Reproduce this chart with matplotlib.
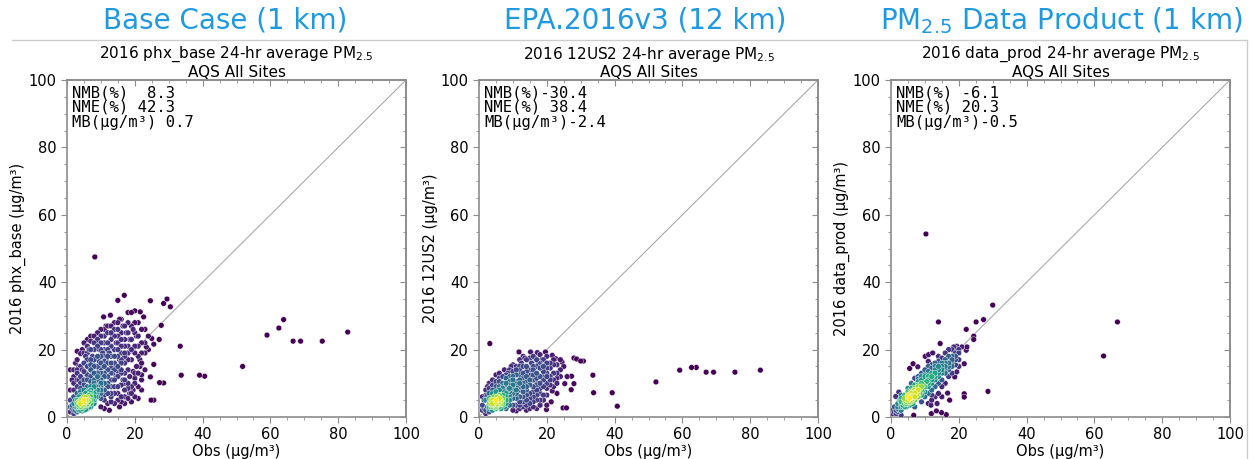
import numpy as np
import matplotlib
matplotlib.use('Agg')
import matplotlib.pyplot as plt
from matplotlib.lines import Line2D

# (obs, model) pairs, ug/m3
base_pts = [
    (2,2),(2.5,3),(3,2.5),(3,4),(3.5,3),(4,3),(4,4),(4,5),(4.5,3.5),(5,4),(5,5),(5,3),(5.5,4.5),
    (6,5),(6,4),(6,6),(6.5,5),(7,6),(7,5),(7.5,7),(3,5),(3.5,6),(4,6.5),(5,6),(5.5,7),(6,7.5),
    (2,4),(2.5,5),(1.5,2.5),(1,1.5),(1.5,3.5),(8,7),(8,8),(8.5,6),(7,8),(6.5,3),(5,2),(4,2),
    (7,4),(9,8),(9,9),(10,9),(9.5,10),(8,10),(7,9),(6,9),(5,8),(4,7.5),(3,7),(2,6),(1,3),(1,5),
    (2,8),(10,11),(11,10),(12,12),(11,13),(10,7),(9,6),(8,4),(7,3),(6,2.5),(3,1.5),(2,1),
    (4.5,1.8),(5.5,2.2),(4.5,5.5),(5.5,5.8),(6.5,6.5),(3.5,4.5),(4.8,4.2),(5.8,3.6),
    (3,3),(4,4.5),(5,4.5),(5.5,5),(6,5.5),(4.5,4),(3.5,3.5),(6,3.5),(7,6.5),(8,6),(7.5,5),
    (6.5,7.5),(8,9),(9,10.5),(10,8),(2.5,2),(3.5,2),(4.5,2.5),(7,7),(6.5,4.5),(5,3.5),
    (1,14),(1,8),(1.5,11),(2,10),(2,12),(2.5,16),(3,9),(3,13),(3,17),(3.5,11),(3.5,15),(4,12),
    (4,18.8),(4,10),(4.5,14),(4.5,20),(5,16),(5,11),(5,22),(5.5,13),(5.5,18),(6,23),(6,15),
    (6,11),(6.5,20),(6.5,17),(7,12),(7,14),(7,22.5),(7.5,18),(7.5,16),(8,13),(8,20),(8,24),
    (8.2,47.5),(8.5,15),(8.5,22),(9,12),(9,18),(9,25),(9.5,14),(9.5,20),(10,16),(10,22),(10,26),
    (10.5,12),(10.5,19),(10.8,29.7),(11,15),(11,24),(11,20),(11.5,17),(11.5,27),(12,14),(12,22),
    (12,25),(12.5,19),(12.8,30.2),(13,16),(13,21),(13,27),(13.5,13),(13.5,24),(14,18),(14,28),
    (14,11),(14.5,22),(14.5,15),(15,26),(15,20),(15,34.6),(15.5,17),(15.5,29),(16,23),(16,13),
    (16,19),(16.5,27),(16.9,36.1),(17,21),(17,16),(17,11),(17.5,25),(18,28),(18,19),(18,14),
    (18.5,23),(19,31),(19,17),(19,9),(19.5,26),(20,21),(20,13),(20,31.5),(20.5,24),(21,18),
    (21,28),(21.5,15),(21.6,31.2),(22,22),(22,11),(22.6,29.7),(23,26),(23,19),(23.4,20.8),
    (24,24),(24.6,34.5),(24.6,11.9),(25,23.3),(25.6,21.6),(25.6,15.6),(25.6,5),(24.8,5),
    (27.3,10.2),(28.5,10.1),(27.2,23),(27.8,27.2),(28.5,33.7),(29.5,35),(30.5,32.7),(33.4,21),
    (33.7,12.4),(39.1,12.4),(40.6,12.1),(51.8,15),(59,24.3),(62.5,26.4),(63.9,28.9),(66.7,22.5),
    (68.9,22.5),(75.3,22.5),(82.8,25.2),
    (10,3),(11,5),(11,2.5),(12,4),(12,7),(12.5,2),(13,6),(13,9),(14,4),(14,7),(15,5),(15,9),
    (15.5,3),(16,6),(16,9.5),(17,4),(17,8),(18,5.5),(18,10),(18.5,7),(19,4.5),(19.5,8),(20,6),
    (20,10),(21,5.5),(21,9),(22,12.5),(22,8),(23,14),(13.5,11),(14.5,12),(16.5,11),(18.5,12),
    (20.5,15),(21.5,17),(19.5,13.5),
    (8,11),(9,11),(10,13),(10,10),(11,8),(11,12),(12,10),(12,16),(13,13),(13,11),(14,14),
    (14,16),(15,12),(15,15),(16,16),(16,14),(17,13),(17,18),(18,17),(9,7.5),(10,5.5),(8,5),
    (7,10.5),(6,12.5),(5,9.5),(4,8.5),(3,11),(8.5,9),(9.5,16.5),(7.5,13.5),
    (6,19),(7,20),(7,17),(8,17),(8,22),(9,21),(9,15),(9,23),(10,18),(10,20),(10,24),(11,18),
    (11,22),(11,26),(12,18),(12,20),(12,27),(13,18),(13,23),(13,25),(14,20),(14,24),(14,26),
    (15,18),(15,22),(15,24),(15,28),(16,21),(16,25),(16,29),(17,23),(17,27),(17,19),(18,21),
    (18,25),(18,31),(19,20),(19,23),(19,27),(20,19),(20,25),(20,28),(21,21),(21,24),(22,19),
    (22,26),(16,17),(14,9),(13,7),(15,7),(17,6),(19,7),(12,9),(11,6.5),(13,4.5),(16,4.5),
    (18,8.5),(20,11.5),(21,13),(22,16),(23,22),(24,20),(17,10),(15,13.5),(13,14.5),(12,18.5),
    (11,16.5),(10,14.5),(9,13),(8,15),(7,15.5),(6,17),(5,13.5),(4,15),(3,14),(2,14),(3,19.5),
    (5,19),(7,24),(6,21),
]

epa_pts = [
    (2,2),(2.5,3),(3,2.5),(3,4),(3.5,3),(4,3),(4,4),(4,5),(4.5,3.5),(5,4),(5,5),(5,3),(5.5,4.5),
    (6,5),(6,4),(6,3),(6.5,4),(7,5),(7,4),(5,2.5),(4,2),(3,1.5),(2,1),(1.5,2.5),(1,2),(3.5,5),
    (4.5,6),(5.5,6),(6,6.5),(7,6.5),(8,5),(8,6),(8,4),(9,5),(9,6.5),(9,7.5),(10,7),(10,5.5),
    (7.5,7.5),(8.5,8),(10,8.5),(11,7),(11,9),(12,8),(12,6),(6.5,2.5),(7.5,3),(2,5),(1,3.5),
    (2.5,6.5),(3,7),(1.5,5),(4.5,4.5),(5.5,3.5),(4.8,3.8),(5.8,5.2),(3.8,3.6),
    (4,3.5),(5,3.5),(5,4.5),(6,4.5),(4.5,4),(5.5,4),(3.5,4),(4.5,2.8),(6,5.5),(7,5.5),
    (6.5,5),(8,5.5),(9,6),(7,3.5),(3,3),(5.2,5.8),
    (1,6),(2,8),(2.5,9),(3,10),(3.2,21.8),(4,8),(4,11),(5,9),(5,12.5),(6,10.5),(6,13),(7,9),
    (7,12),(7.5,14),(8,10),(8,11.5),(8.5,13),(9,9.5),(9,12),(9.5,15),(10,11),(10,13.5),
    (10.5,10),(11,12.5),(11,15),(11.8,19.3),(12,11),(12,14),(12.5,16),(13,10),(13,13),
    (13.5,17.5),(14,12),(14,15),(14.5,17),(15,11),(15,14),(15.2,19.3),(15.5,16),(16,12.5),
    (16,15),(16.5,17.5),(17,10),(17,13),(17.2,19.1),(17.5,16),(18,12),(18,14.5),(18.5,17),
    (19,11),(19,15),(19.6,19.3),(20,13),(20,16),(21,12),(21,14.5),(21.6,18.3),(22,15.5),
    (22.6,17.3),(23,13),(24,17),(24.5,16.3),(24,14),(25.3,9.9),(27.3,12.1),(28,9.9),(27.2,8.1),
    (24.8,2.7),(25.8,2.7),(28,17.5),(28.8,17.2),(30,16.6),(30.8,16.6),(33.6,12.4),(33.8,7.2),
    (39.3,7.2),(40.8,3.2),(52.2,10.4),(59.2,13.9),(62.7,14.7),(64.1,14.7),(67,13.3),(69.2,13.3),
    (75.5,13.3),(83,13.9),
    (10,2),(11,3.5),(11,1.8),(12,4.5),(13,3),(13,6),(14,2),(14,5),(14,8),(15,4),(15,7),(16,3),
    (16,6),(16,9),(17,2.5),(17,5),(17,8),(18,3.5),(18,7),(18.1,3.5),(19,5),(19,9),(19.9,2.2),
    (20,6.5),(20,10),(21.3,4.5),(21.6,7.7),(22,9),(22,11),(23,7),(23,10),(12,10),(13,9),
    (14,10.5),(15,9.5),(16,11),(18,10),(19,12.5),(20,8.5),(21,11),(9,3.5),(8,2.5),(10,3.5),
    (11,5.5),(12,2.5),(9,10.5),(10,9.5),(11,10.5),(13,11.5),(7,8.5),(6,8),(5,7.5),(4,7),
    (3,5.5),(8,9),
    (9,14),(10,15.5),(11,14),(12,12.5),(12,17),(13,15),(13,18),(14,13.5),(14,17),(15,12.5),
    (15,17.5),(16,14),(16,18),(17,11.5),(17,15),(17,17),(18,16),(18,18.5),(19,13.5),(19,17),
    (20,12),(20,14.5),(20,18),(21,16),(22,13),(22,17),(23,15.5),(23,11.5),(21,9.5),(20,3.5),
    (19,6.5),(18,5),(17,6.5),(16,4.5),(15,2.5),(15,5.5),(14,6.5),(13,4.5),(12,3.5),(13,7.5),
    (14,3.5),(16,7.5),(17,9.5),(18,8.5),(15,10.5),(14,9),(12,9),(11,8),(10,10),(9,8.5),(8,7),
    (7,10),(6,9),(5,10.5),(4,9.5),(3,8.5),(2,6.5),(6,11.5),(8,12.5),(10,12),(12,15),(24,12),
    (25,15),(26,12),
]

prod_pts = [
    (1,1.5),(1.5,2),(2,2.5),(2.5,2),(3,3),(3,4),(3.5,3.5),(4,4),(4,5),(4.5,4.5),(5,5),(5,6),
    (5.5,5.5),(6,6),(6,5),(6,7),(6.5,6.5),(7,7),(7,6),(7,8),(7.5,7.5),(8,8),(8,7),(8,9),
    (8.5,8.5),(9,9),(9,8),(9,10),(9.5,9.5),(10,10),(10,9),(5,4),(4,3),(6,4.5),(7,5),(3,2),
    (2,1.5),(0.5,1),(0.5,2),(1,3),(2,4),(3,5.5),(4,6.5),(5,7.5),(6,8.5),(7,9.5),(8,10.5),
    (4.5,3),(5.5,3.5),(6.5,4),(8,6),(9,6.5),(10,7.5),(11,9),(11,11),(11,12),(12,11),(12,13),
    (12,10),(13,12),(13,14),(13,11),(14,13),(14,15),(14,12),(15,14),(15,16),(15,13),(16,15),
    (16,17),(17,16),(17,14),(18,17),(18,18),(19,18),(19,17),(20,19),(20,20),(16,13),(17,18),
    (18,15),(15,11),(14,10),(13,9),(12,8),(11,7),(10,6),(3,6.5),(2.5,5),(5,8.5),(6,10),
    (7,11.5),(8,12),(9,13),(10,14),(11,15),(12,14.5),(13,16),(14,18),(15,17.5),(16,16),
    (10,11.5),(9,11),(8,11.2),(5.5,6.2),(6.2,5.8),(6.8,6.2),(5.8,6.8),(7.2,7.4),
    (10.5,10.5),(11.5,10.5),(12.5,12.5),(13.5,13.5),(11,10),(12,12),(13,13),(14,14),(15,15),
    (10,12.5),(12.5,11),(9.5,8),(8.5,7),(7.5,6.5),(6.5,5.5),(5.5,4.5),(4.5,4),(3.5,3),
    (16,14),(17,15),(18,16),(19,19),(19,15.5),(20,17),(17,20),(18,20),(14,16.5),(13,15),
    (12,15.5),(11,13.5),(10,12),(9,12),(8,9.5),(7,8.5),(6,7.5),(6.5,7.5),(7.5,8),(5,6.5),
    (4,5.5),(3,4.5),(2,3),(1.5,1),(11,4),(13,6),(12,6.5),(15,6),(16,10),(18,13),(20,15),
    (10.3,54.3),(30,33.2),(14,28.2),(25.1,28.2),(27.3,28.9),(22.2,26),(24.4,24),(24.4,23),
    (14.5,21.8),(28.6,7.6),(62.7,18.1),(66.8,28.2),(21.6,6.9),(21.6,5.9),(16.3,0.7),(14.9,1.3),
    (13.4,1.8),(11.9,1.0),(11.8,3.5),(13.6,4),(17.3,5),(16.7,7.1),(19.4,13.4),(18.8,11.9),
    (21.6,15.8),(22.2,19.8),(22.4,20.8),(20.9,20.8),(18.5,20.8),(19.2,20.3),(19.4,21),(10.1,18),
    (11.1,18.5),(12.3,19),(6.5,15.8),(5.5,14.4),(7.9,14.9),(2.8,5),(1.4,6.1),(2.3,7.4),
    (6.7,0.5),(3,0.5),(14,7),(15,9),(12,5),(9,4.5),(7,3),(11,16.5),(16,19),(17,12),
]

headers = ['Base Case (1 km)', 'EPA.2016v3 (12 km)', 'PM$_{2.5}$ Data Product (1 km)']
header_x = [225, 645, 1061]
runs = ['phx_base', '12US2', 'data_prod']
stats = [('8.3', '42.3', '0.7'), ('-30.4', '38.4', '-2.4'), ('-6.1', '20.3', '-0.5')]
panels = [base_pts, epa_pts, prod_pts]

W, H = 1254, 459
fig = plt.figure(figsize=(W / 100, H / 100), dpi=100)
plt.rcParams['font.family'] = ['DejaVu Sans']

# outer frame of the screenshot
fig.add_artist(Line2D([12 / W, 1247 / W], [1 - 40 / H, 1 - 40 / H], color='#cccccc', lw=1))
fig.add_artist(Line2D([1247 / W, 1247 / W], [1 - 40 / H, 0], color='#cccccc', lw=1))

lefts = [67, 479, 891]
gray = '#8c8c8c'
for i in range(3):
    ax = fig.add_axes([lefts[i] / W, 42 / H, 339 / W, 337 / H])
    pts = np.array(panels[i], dtype=float)
    x, y = pts[:, 0], pts[:, 1]
    # point density: neighbours within a small radius
    d = np.hypot(x[:, None] - x[None, :], y[:, None] - y[None, :])
    dens = (d < 3.2).sum(axis=1).astype(float) ** 1.6
    order = np.argsort(dens)
    ax.scatter(x[order], y[order], c=dens[order], cmap='viridis', s=17,
               edgecolors='white', linewidths=0.3, zorder=3)
    ax.plot([0, 100], [0, 100], color='#aaaaaa', lw=0.8, zorder=2)
    ax.set_xlim(0, 100)
    ax.set_ylim(0, 100)
    ax.set_xticks(range(0, 101, 20))
    ax.set_yticks(range(0, 101, 20))
    ax.set_xticks(range(0, 101, 5), minor=True)
    ax.set_yticks(range(0, 101, 5), minor=True)
    for s in ax.spines.values():
        s.set_color(gray)
        s.set_linewidth(1.2)
    ax.tick_params(which='major', direction='out', length=4, color=gray, labelsize=10.5)
    ax.tick_params(which='minor', direction='out', length=2, color=gray)
    top = ax.secondary_xaxis('top')
    rgt = ax.secondary_yaxis('right')
    for sec in (top, rgt):
        sec.set_ticks(range(0, 101, 20))
        sec.set_ticks(range(0, 101, 5), minor=True)
        sec.tick_params(which='major', direction='in', length=4, color=gray,
                        labeltop=False, labelright=False)
        sec.tick_params(which='minor', direction='in', length=2, color=gray)
        for s in sec.spines.values():
            s.set_color(gray)
            s.set_linewidth(1.2)
    ax.set_xlabel('Obs (μg/m³)', fontsize=10.5, labelpad=1)
    ax.set_ylabel(f'2016 {runs[i]} (μg/m³)', fontsize=10.5, labelpad=2)
    ax.set_title(f'2016 {runs[i]} 24-hr average PM$_{{2.5}}$\nAQS All Sites',
                 fontsize=11, pad=2, linespacing=1.05)
    nmb, nme, mb = stats[i]
    txt = f'NMB(%){nmb:>5}\nNME(%){nme:>5}\nMB(µg/m³){mb:>4}'
    ax.text(0.016, 0.985, txt, transform=ax.transAxes, va='top', ha='left',
            family='DejaVu Sans Mono', fontsize=11.2, linespacing=0.98)
    fig.text(header_x[i] / W, 1 - 21 / H, headers[i], ha='center', va='center',
             fontsize=20, color='#1f9ae0')

fig.savefig('out.png', dpi=100)
